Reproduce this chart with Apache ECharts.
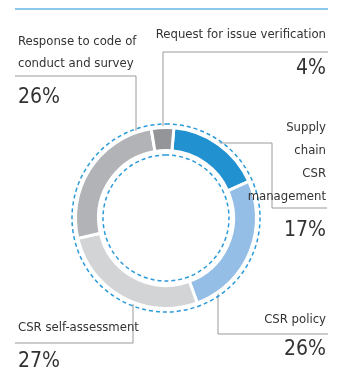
<!DOCTYPE html>
<html lang="en">
	<head>
		<meta charset="utf-8" />
		<title>CSR ring</title>
		<style>
			html, body { margin: 0; padding: 0; background: #fff; }
			#chart { width: 340px; height: 374px; }
		</style>
		<script type="text/javascript" src="https://cdn.jsdelivr.net/npm/echarts@6/dist/echarts.min.js"></script>
	</head>
	<body>
		<div id="chart"></div>
		<script type="text/javascript">
			// data, clockwise from the top
			var categories = ['Supply chain CSR management', 'CSR policy', 'CSR self-assessment', 'Response to code of conduct and survey', 'Request for issue verification'];
			var shares = [17, 26, 27, 26, 4];
			// how each name is broken into lines
			var nameLines = [
				['Supply', 'chain', 'CSR', 'management'],
				['CSR policy'],
				['CSR self-assessment'],
				['Response to code of', 'conduct and survey'],
				['Request for issue verification']
			];

			var colors = ['#2191d0', '#94bee6', '#d3d4d6', '#b2b3b7', '#949598'];
			var FONT = '"Liberation Sans Narrow", "DejaVu Sans Condensed", "Liberation Sans", sans-serif';

			// label box spots, line styles and leader lines (layout only)
			var labelSpots = [
				{ x: 326, y: 116, align: 'right', n: 'm', v: 'v', line: [[210, 143], [272, 143], [272, 208], [327, 208]] },
				{ x: 326, y: 309, align: 'right', n: 'n', v: 'vs', line: [[218, 288], [218, 334], [328, 334]] },
				{ x: 18, y: 317, align: 'left', n: 'n', v: 'v', line: [[133, 300], [133, 343], [15, 343]] },
				{ x: 18, y: 31, align: 'left', n: 'n', v: 'v', line: [[136, 142], [136, 76], [15, 76]] },
				{ x: 326, y: 24, align: 'right', n: 'n', v: 'v', line: [[163, 136], [163, 52], [328, 52]] }
			];

			var chart = echarts.init(document.getElementById('chart'));

			var pieData = categories.map(function (name, i) {
				return { name: name, value: shares[i], itemStyle: { color: colors[i] } };
			});

			chart.setOption({
				animation: false,
				graphic: [{
					type: 'line',
					shape: { x1: 15, y1: 9, x2: 328, y2: 9 },
					style: { stroke: '#8cc8ea', lineWidth: 2 }
				}],
				series: [
					{
						// dashed guide circles
						type: 'pie',
						silent: true,
						center: [166, 218],
						radius: [63, 94],
						label: { show: false },
						labelLine: { show: false },
						itemStyle: { color: 'rgba(0,0,0,0)', borderColor: '#2b9ad9', borderWidth: 1.5, borderType: [4, 3] },
						data: [{ value: 1 }]
					},
					{
						type: 'pie',
						center: [166, 218],
						radius: [67.5, 90.5],
						startAngle: 85,
						clockwise: true,
						avoidLabelOverlap: false,
						itemStyle: { borderColor: '#fff', borderWidth: 3 },
						label: {
							show: true,
							position: 'outside',
							fontFamily: FONT,
							color: '#333',
							formatter: function (p) {
								var s = labelSpots[p.dataIndex];
								var lines = nameLines[p.dataIndex].map(function (t) { return '{' + s.n + '|' + t + '}'; });
								lines.push('{' + s.v + '|' + p.value + '%}');
								return lines.join('\n');
							},
							rich: {
								n: { fontFamily: FONT, fontSize: 13, lineHeight: 22, color: '#333' },
								m: { fontFamily: FONT, fontSize: 13, lineHeight: 23, color: '#333' },
								v: { fontFamily: FONT, fontSize: 21, lineHeight: 46, color: '#333' },
								vs: { fontFamily: FONT, fontSize: 21, lineHeight: 38, color: '#333' }
							}
						},
						labelLine: { show: true, lineStyle: { color: '#9a9a9a', width: 1 } },
						labelLayout: function (params) {
							var s = labelSpots[params.dataIndex];
							return {
								x: s.x,
								y: s.y,
								align: s.align,
								verticalAlign: 'top',
								labelLinePoints: s.line
							};
						},
						data: pieData
					}
				]
			});

			window.onresize = function () {
				chart.resize();
			};
		</script>
	</body>
</html>
